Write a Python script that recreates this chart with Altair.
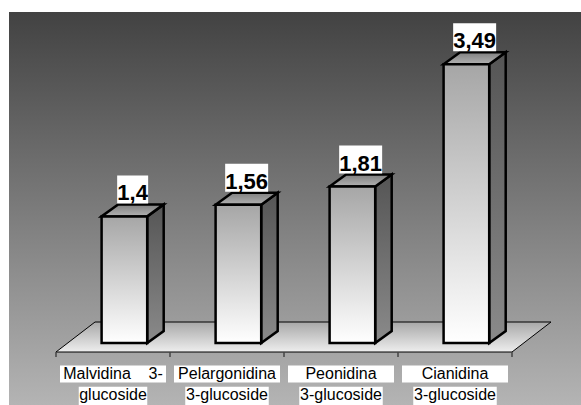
import altair as alt
import pandas as pd

# ---- data -------------------------------------------------------------
categories = [
    "Malvidina 3-glucoside",
    "Pelargonidina 3-glucoside",
    "Peonidina 3-glucoside",
    "Cianidina 3-glucoside",
]
values = [1.4, 1.56, 1.81, 3.49]
label_line1 = ["Malvidina\u00a0\u00a0\u00a0\u00a03-", "Pelargonidina", "Peonidina", "Cianidina"]
label_line2 = ["glucoside", "3-glucoside", "3-glucoside", "3-glucoside"]

# ---- geometry of the pseudo-3D scene (scale units) ---------------------
N = len(categories)
W, H = 581, 405
X_RANGE = [56, 512]            # front edge of the floor
Y_ZERO, Y_PX = 318.3, 72.8     # pixel of value 0, pixels per unit
PX_X = (X_RANGE[1] - X_RANGE[0]) / N

BAR_L, BAR_R = 0.4, 0.8        # front face within a category slot
DX, DY = 16.5 / PX_X, 12 / Y_PX          # bar depth
BASE = (Y_ZERO - 343) / Y_PX             # bottom of the bars
FLOOR_FRONT = (Y_ZERO - 352) / Y_PX
FLOOR_BACK = (Y_ZERO - 322) / Y_PX
FLOOR_DX = 39 / PX_X
TICK_END = FLOOR_FRONT - 5 / Y_PX

xs = alt.Scale(domain=[0, N], range=X_RANGE)
ys = alt.Scale(domain=[0, 4], range=[Y_ZERO, Y_ZERO - 4 * Y_PX])


def grad(top, bottom):
    return alt.Gradient(
        gradient="linear",
        stops=[alt.GradientStop(color=top, offset=0), alt.GradientStop(color=bottom, offset=1)],
        x1=0, x2=0, y1=0, y2=1,
    )


df = pd.DataFrame({
    "idx": list(range(N)),
    "category": categories,
    "value": values,
    "line1": label_line1,
    "line2": label_line2,
})
base = alt.Chart(df)

# ---- background wall ---------------------------------------------------
background = alt.Chart(pd.DataFrame({"a": [0]})).mark_rect(
    fill=grad("#424242", "#b4b4b4")
).encode(x=alt.value(9), x2=alt.value(W), y=alt.value(12), y2=alt.value(H))

# ---- floor -------------------------------------------------------------
floor_df = pd.DataFrame({
    "fx": [0, FLOOR_DX, N, N + FLOOR_DX],
    "flo": [FLOOR_FRONT, FLOOR_FRONT, FLOOR_FRONT, FLOOR_BACK],
    "fhi": [FLOOR_FRONT, FLOOR_BACK, FLOOR_BACK, FLOOR_BACK],
})
floor = alt.Chart(floor_df).mark_area(
    fill=grad("#a8a8a8", "#eeeeee"), stroke="black", strokeWidth=1
).encode(
    x=alt.X("fx:Q", scale=xs, axis=None),
    y=alt.Y("fhi:Q", scale=ys, axis=None, stack=None),
    y2="flo:Q",
)

ticks = alt.Chart(pd.DataFrame({"t": list(range(N + 1))})).mark_rule(
    stroke="#444444", strokeWidth=1.5
).transform_calculate(t0=f"{FLOOR_FRONT}", t1=f"{TICK_END}").encode(
    x=alt.X("t:Q", scale=xs, axis=None),
    y=alt.Y("t0:Q", scale=ys, axis=None),
    y2="t1:Q",
)

# ---- bars --------------------------------------------------------------
side = base.transform_calculate(k="[0, 1]").transform_flatten(["k"]).transform_calculate(
    sx=f"datum.idx + {BAR_R} + datum.k * {DX}",
    sy=f"datum.value + datum.k * {DY}",
    sy2=f"{BASE} + datum.k * {DY}",
).mark_area(fill=grad("#555555", "#8a8a8a"), stroke="black", strokeWidth=2.5).encode(
    x=alt.X("sx:Q", scale=xs, axis=None),
    y=alt.Y("sy:Q", scale=ys, axis=None, stack=None),
    y2="sy2:Q",
    detail="category:N",
)

top = base.transform_calculate(k="[0, 1, 2, 3]").transform_flatten(["k"]).transform_calculate(
    tx=f"datum.idx + {BAR_L} + (datum.k % 2) * {DX} + (datum.k >= 2 ? {BAR_R - BAR_L} : 0)",
    tlo=f"datum.value + (datum.k == 3 ? {DY} : 0)",
    thi=f"datum.value + (datum.k >= 1 ? {DY} : 0)",
).mark_area(fill=grad("#808080", "#b2b2b2"), stroke="black", strokeWidth=2.5).encode(
    x=alt.X("tx:Q", scale=xs, axis=None),
    y=alt.Y("thi:Q", scale=ys, axis=None, stack=None),
    y2="tlo:Q",
    detail="category:N",
)

front = base.transform_calculate(
    x0=f"datum.idx + {BAR_L}", x1=f"datum.idx + {BAR_R}", b=f"{BASE}"
).mark_rect(fill=grad("#a6a6a6", "#ffffff"), stroke="black", strokeWidth=2.5).encode(
    x=alt.X("x0:Q", scale=xs, axis=None),
    x2="x1:Q",
    y=alt.Y("value:Q", scale=ys, axis=None),
    y2="b:Q",
)

# ---- value labels ------------------------------------------------------
val = base.transform_calculate(
    label="replace(toString(datum.value), '.', ',')",
    cx=f"datum.idx + {(BAR_L + BAR_R) / 2 + DX / 2}",
    bot=f"datum.value + {DY + 1 / Y_PX}",
).transform_calculate(
    half=f"(12 * length(datum.label) - 5) / 2 / {PX_X}",
    top=f"datum.bot + {28 / Y_PX}",
    base_y=f"datum.bot + {3 / Y_PX}",
).transform_calculate(bx0="datum.cx - datum.half", bx1="datum.cx + datum.half")

val_box = val.mark_rect(fill="white").encode(
    x=alt.X("bx0:Q", scale=xs, axis=None), x2="bx1:Q",
    y=alt.Y("top:Q", scale=ys, axis=None), y2="bot:Q",
)
val_text = val.mark_text(
    font="Liberation Sans", fontWeight="bold", fontSize=22,
    baseline="alphabetic", align="center", color="black",
).encode(
    x=alt.X("cx:Q", scale=xs, axis=None),
    y=alt.Y("base_y:Q", scale=ys, axis=None),
    text="label:N",
)

# ---- category labels ---------------------------------------------------
cat = base.transform_calculate(
    cx="datum.idx + 0.5",
    h1=f"{106 / 2} / {PX_X}",
    h2=f"(7.5 * length(datum.line2) + 1) / 2 / {PX_X}",
    b1t=f"{(Y_ZERO - 365.5) / Y_PX}", b1b=f"{(Y_ZERO - 382.5) / Y_PX}",
    b2t=f"{(Y_ZERO - 386.7) / Y_PX}", b2b=f"{(Y_ZERO - 406) / Y_PX}",
    t1=f"{(Y_ZERO - 379) / Y_PX}", t2=f"{(Y_ZERO - 400) / Y_PX}",
).transform_calculate(
    l1x0="datum.cx - datum.h1", l1x1="datum.cx + datum.h1",
    l2x0="datum.cx - datum.h2", l2x1="datum.cx + datum.h2",
)

cat_box1 = cat.mark_rect(fill="white").encode(
    x=alt.X("l1x0:Q", scale=xs, axis=None), x2="l1x1:Q",
    y=alt.Y("b1t:Q", scale=ys, axis=None), y2="b1b:Q",
)
cat_box2 = cat.mark_rect(fill="white").encode(
    x=alt.X("l2x0:Q", scale=xs, axis=None), x2="l2x1:Q",
    y=alt.Y("b2t:Q", scale=ys, axis=None), y2="b2b:Q",
)
text_style = dict(font="Liberation Sans", fontSize=16, baseline="alphabetic", align="center", color="black")
cat_text1 = cat.mark_text(**text_style).encode(
    x=alt.X("cx:Q", scale=xs, axis=None), y=alt.Y("t1:Q", scale=ys, axis=None), text="line1:N"
)
cat_text2 = cat.mark_text(**text_style).encode(
    x=alt.X("cx:Q", scale=xs, axis=None), y=alt.Y("t2:Q", scale=ys, axis=None), text="line2:N"
)

chart = alt.layer(
    background, floor, ticks, side, top, front,
    val_box, val_text, cat_box1, cat_box2, cat_text1, cat_text2,
).properties(
    width=W, height=H, padding=0, autosize=alt.AutoSizeParams(type="none"), background="white"
).configure_view(stroke=None)

chart.save("out.html", embed_options={"renderer": "svg", "actions": False})
